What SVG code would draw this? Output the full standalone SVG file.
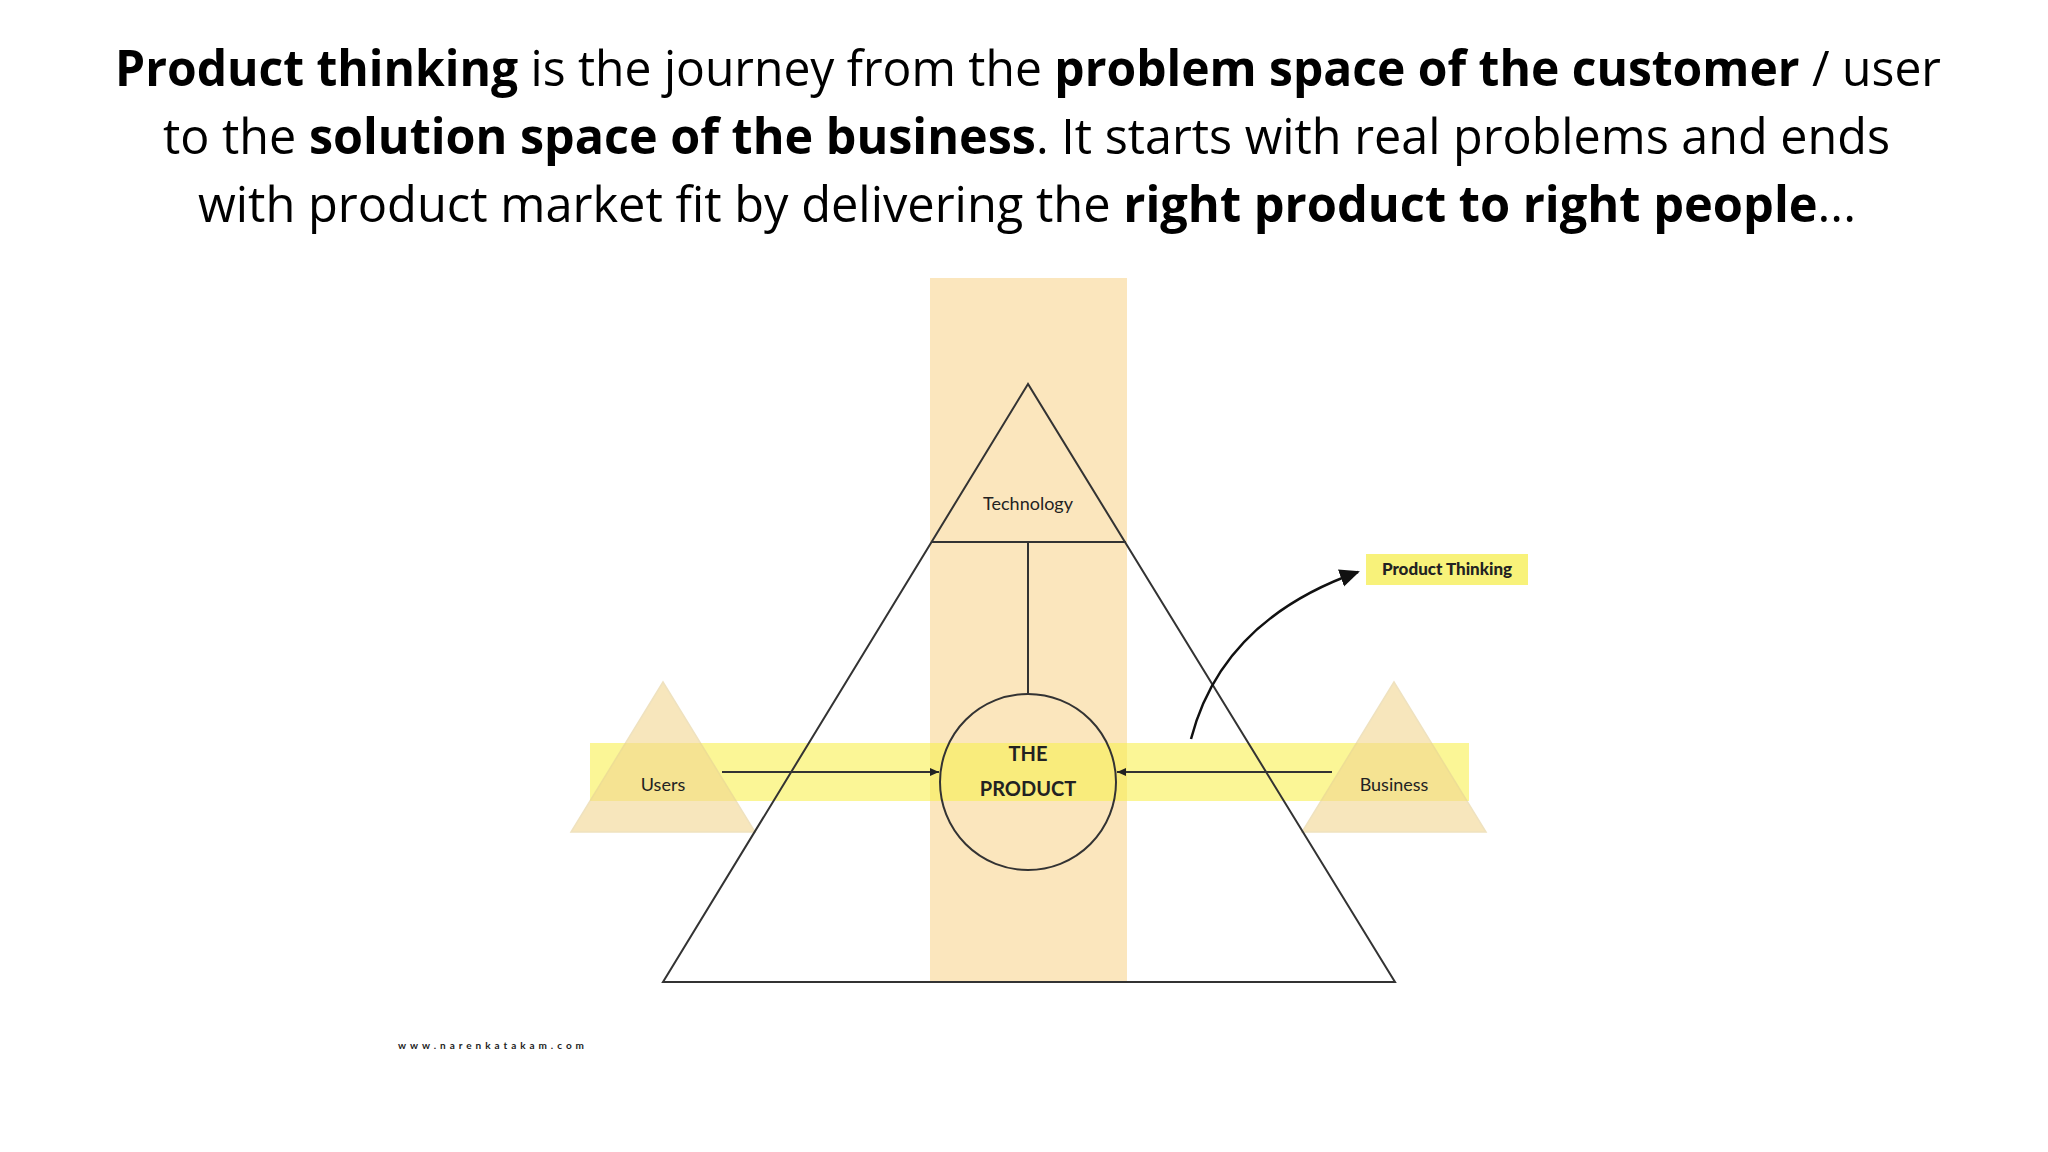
<svg xmlns="http://www.w3.org/2000/svg" width="2048" height="1152" viewBox="0 0 2048 1152">
<style>
.t{font-family:"Open Sans","Liberation Sans",sans-serif;font-size:50px;fill:#000}
.b{font-weight:bold}
.l{font-family:"Lato","Liberation Sans",sans-serif;fill:#222}
.ln{stroke:#333;stroke-width:2;fill:none}
</style>
<defs>
<marker id="ah" markerWidth="10" markerHeight="10" refX="9" refY="5" orient="auto" markerUnits="userSpaceOnUse"><path d="M0,1 L9,5 L0,9 z" fill="#222"/></marker>
<marker id="big" markerWidth="22" markerHeight="22" refX="18" refY="11" orient="auto" markerUnits="userSpaceOnUse"><path d="M0,2 L20,11 L0,20 z" fill="#111"/></marker>
</defs>
<rect width="2048" height="1152" fill="#fff"/>
<g id="title">
<text class="t" x="115" y="86" textLength="1826" lengthAdjust="spacingAndGlyphs"><tspan class="b">Product thinking</tspan> is the journey from the <tspan class="b">problem space of the customer</tspan> / user</text>
<text class="t" x="163" y="154" textLength="1727" lengthAdjust="spacingAndGlyphs">to the <tspan class="b">solution space of the business</tspan>. It starts with real problems and ends</text>
<text class="t" x="198" y="222" textLength="1658" lengthAdjust="spacingAndGlyphs">with product market fit by delivering the <tspan class="b">right product to right people</tspan>...</text>
</g>
<g id="bar"><rect x="930" y="278" width="197" height="704" fill="#fbe6bd"/></g>
<g id="band"><rect x="590" y="743" width="879" height="58" fill="#f8f050" opacity="0.6"/></g>
<g id="users"><polygon points="663,682 571,832 755,832" fill="#f2d790" opacity="0.6" stroke="#e6cf95" stroke-width="1.5"/><text class="l" x="663" y="791" font-size="18" text-anchor="middle">Users</text></g>
<g id="business"><polygon points="1394,682 1302,832 1486,832" fill="#f2d790" opacity="0.6" stroke="#e6cf95" stroke-width="1.5"/><text class="l" x="1394" y="791" font-size="18" text-anchor="middle">Business</text></g>
<g id="pyramid"><polygon class="ln" points="1028,384 663,982 1395,982"/></g>
<g id="technology"><line class="ln" x1="931" y1="542" x2="1126" y2="542"/><text class="l" x="1028" y="510" font-size="18" text-anchor="middle">Technology</text></g>
<g id="product"><circle class="ln" cx="1028" cy="782" r="88"/><text class="l" x="1028" y="761" font-size="20" text-anchor="middle" font-weight="bold">THE</text><text class="l" x="1028" y="796" font-size="20" text-anchor="middle" font-weight="bold">PRODUCT</text></g>
<g id="pt-label"><rect x="1366" y="554" width="162" height="31" fill="#f8f27a"/><text class="l" x="1447" y="575" font-size="17" font-weight="900" text-anchor="middle" fill="#111">Product Thinking</text></g>
<g id="connectors">
<line class="ln" x1="1028" y1="542" x2="1028" y2="694"/>
<line class="ln" x1="722" y1="772" x2="939" y2="772" marker-end="url(#ah)"/>
<line class="ln" x1="1332" y1="772" x2="1117" y2="772" marker-end="url(#ah)"/>
<path d="M1191,739 Q1222,620 1358,572" fill="none" stroke="#111" stroke-width="2.5" marker-end="url(#big)"/>
</g>
<text class="l" x="398" y="1049" font-size="10" font-weight="bold" textLength="186" lengthAdjust="spacing" fill="#444">www.narenkatakam.com</text>
</svg>
